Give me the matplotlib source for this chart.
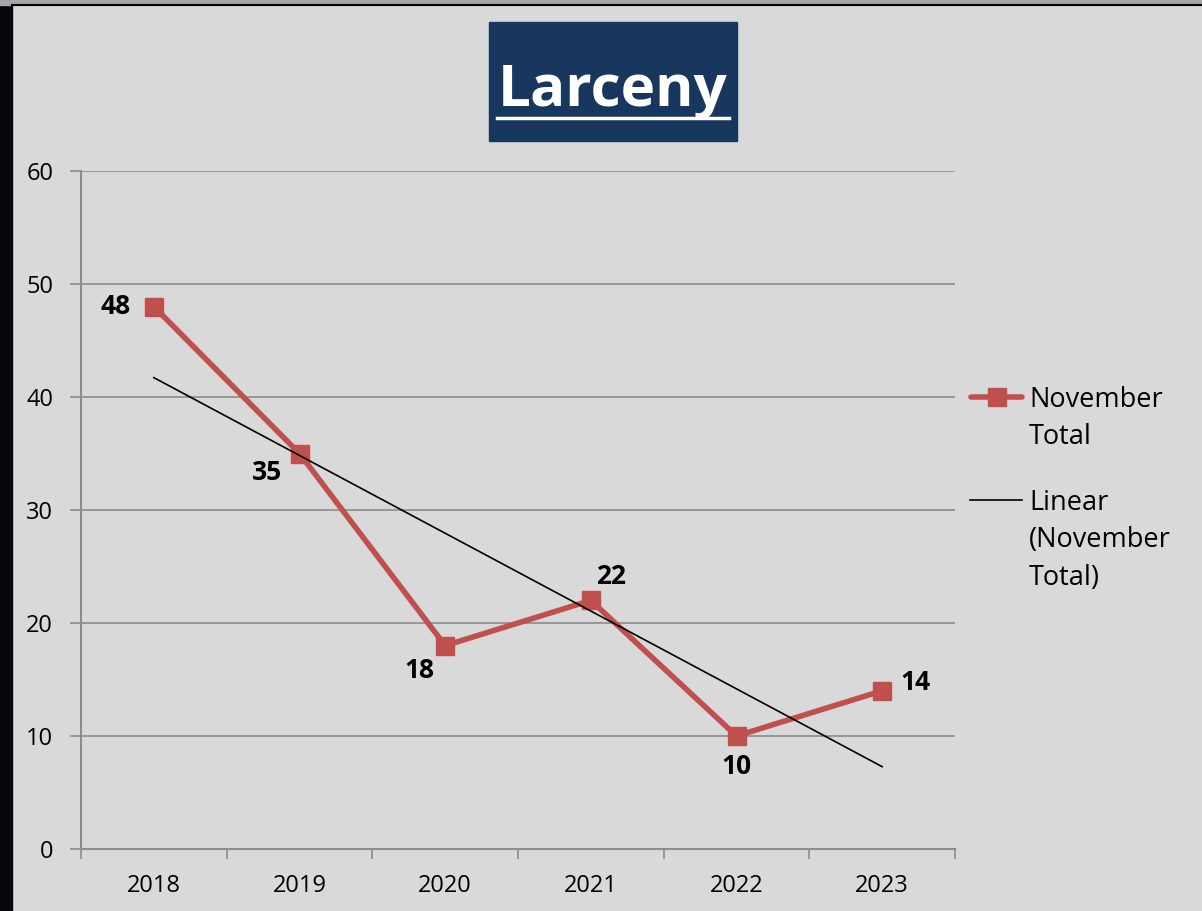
import numpy as np
import matplotlib
matplotlib.use("Agg")
import matplotlib.pyplot as plt
from matplotlib.lines import Line2D
from matplotlib.patches import Rectangle

years = ["2018", "2019", "2020", "2021", "2022", "2023"]
november_total = [48, 35, 18, 22, 10, 14]
label_offsets = [(-38, 0), (-32, -19), (-26, -25), (20, 24), (0, -31), (33, 8)]
y_ticks = [0, 10, 20, 30, 40, 50, 60]

W, H = 1202, 911
BG = "#d9d9d9"
RED = "#c0504d"
GRID = "#8c8c8c"

plt.rcParams["font.family"] = ["Open Sans", "DejaVu Sans"]

fig = plt.figure(figsize=(W / 100, H / 100), dpi=100, facecolor=BG)

def fx(px):
    return px / W

def fy(py):
    return 1 - py / H

# screen edges: dark strip on the left, grey band with black rule at the top
fig.add_artist(Rectangle((0, 0), fx(12), 1, transform=fig.transFigure, color="#05070d", zorder=0))
fig.add_artist(Rectangle((0, fy(5)), 1, fy(0) - fy(5), transform=fig.transFigure, color="#a6a6a6", zorder=0))
fig.add_artist(Line2D([fx(12), 1], [fy(5), fy(5)], transform=fig.transFigure, color="black", lw=1.5))

ax = fig.add_axes([fx(81), fy(849), fx(955) - fx(81), fy(171) - fy(849)])
ax.set_facecolor(BG)

x = np.arange(len(years))
ax.plot(x, november_total, color=RED, lw=4, marker="s", ms=13, mfc=RED, mec=RED, zorder=3)

# linear trend line
coef = np.polyfit(x + 1, november_total, 1)
ax.plot(x, np.polyval(coef, x + 1), color="black", lw=1.2, zorder=4)

for xi, v, off in zip(x, november_total, label_offsets):
    ax.annotate(str(v), (xi, v), xytext=off, textcoords="offset pixels",
                ha="center", va="center", fontsize=19, fontweight="bold", color="black")

ax.set_xlim(-0.5, len(years) - 0.5)
ax.set_ylim(0, 60)
ax.set_yticks(y_ticks)
ax.set_yticklabels([str(t) for t in y_ticks])
ax.set_xticks(np.arange(-0.5, len(years)), minor=False)
ax.set_xticklabels([])
ax.set_xticks(x, minor=True)
ax.set_xticklabels(years, minor=True)
ax.tick_params(axis="x", which="major", length=7, width=1.2, color=GRID, direction="out")
ax.tick_params(axis="x", which="minor", length=0, pad=18, labelsize=17)
ax.tick_params(axis="y", length=8, width=1.2, color=GRID, pad=12, labelsize=17)
ax.grid(axis="y", color=GRID, lw=1.2)
ax.set_axisbelow(True)
for side in ["top", "right"]:
    ax.spines[side].set_visible(False)
for side in ["left", "bottom"]:
    ax.spines[side].set_color(GRID)
    ax.spines[side].set_linewidth(1.5)

# title box
fig.add_artist(Rectangle((fx(489), fy(141)), fx(737) - fx(489), fy(22) - fy(141),
                         transform=fig.transFigure, color="#17375e", zorder=1))
fig.text(fx(613), fy(91), "Larceny", ha="center", va="center", color="white",
         fontsize=42, fontweight="bold", zorder=2)
fig.add_artist(Line2D([fx(497), fx(729)], [fy(118), fy(118)], transform=fig.transFigure,
                      color="white", lw=2.5, zorder=2))

# legend
fig.add_artist(Line2D([fx(971), fx(1022)], [fy(397), fy(397)], transform=fig.transFigure,
                      color=RED, lw=4, solid_capstyle="round"))
fig.add_artist(Line2D([fx(996.5)], [fy(397)], transform=fig.transFigure,
                      color=RED, marker="s", ms=13, lw=0))
fig.text(fx(1029), fy(386), "November\nTotal", ha="left", va="top", fontsize=19.5,
         linespacing=1.45, transform=fig.transFigure)
fig.add_artist(Line2D([fx(970), fx(1022)], [fy(500), fy(500)], transform=fig.transFigure,
                      color="black", lw=1.2))
fig.text(fx(1029), fy(489), "Linear\n(November\nTotal)", ha="left", va="top", fontsize=19.5,
         linespacing=1.45, transform=fig.transFigure)

fig.savefig("out.png", dpi=100, facecolor=BG)
